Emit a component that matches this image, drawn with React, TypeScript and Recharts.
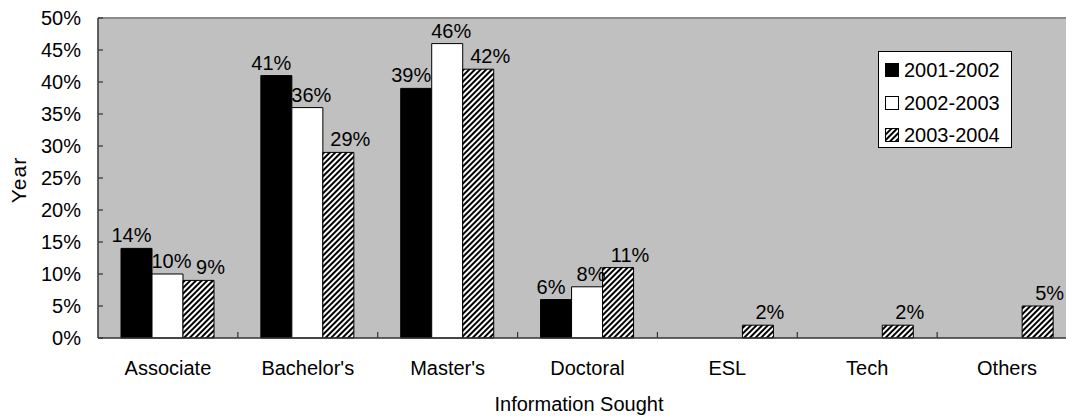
import React from "react";
import {
  Bar,
  BarChart,
  CartesianGrid,
  LabelList,
  ReferenceLine,
  XAxis,
  YAxis,
} from "recharts";

const FONT = '"Liberation Sans", Arial, sans-serif';
const FS = 20;
const PLOT_BG = "#C0C0C0";
const AXIS = "#333333";

const categories = [
  "Associate",
  "Bachelor's",
  "Master's",
  "Doctoral",
  "ESL",
  "Tech",
  "Others",
];
const y2001 = [14, 41, 39, 6, null, null, null];
const y2002 = [10, 36, 46, 8, null, null, null];
const y2003 = [9, 29, 42, 11, 2, 2, 5];
const seriesNames = ["2001-2002", "2002-2003", "2003-2004"];
const yTicks = [0, 5, 10, 15, 20, 25, 30, 35, 40, 45, 50];

const CHART_W = 1078;
const CHART_H = 418;
const Y_AXIS_W = 98;
const BAND = (CHART_W - Y_AXIS_W - 1) / categories.length;

const data = categories.map((name, i) => ({
  name,
  a: y2001[i],
  b: y2002[i],
  c: y2003[i],
}));

function XTick({ x, y, payload, index }: any) {
  return (
    <g>
      {index > 0 && (
        <line
          x1={x - BAND / 2}
          x2={x - BAND / 2}
          y1={y}
          y2={y - 6}
          stroke={AXIS}
          strokeWidth={1.2}
        />
      )}
      <text
        x={x}
        y={y + 37}
        textAnchor="middle"
        fill="#000"
        style={{ fontSize: FS, fontFamily: FONT }}
      >
        {payload.value}
      </text>
    </g>
  );
}

function YTick({ x, y, payload }: any) {
  return (
    <g>
      <line x1={x} x2={x + 5} y1={y} y2={y} stroke={AXIS} strokeWidth={1.2} />
      <text
        x={x - 17}
        y={y}
        textAnchor="end"
        dominantBaseline="central"
        fill="#000"
        style={{ fontSize: FS, fontFamily: FONT }}
      >
        {payload.value}%
      </text>
    </g>
  );
}

function valueLabel(dx: number) {
  return (props: any) => {
    const { x, y, width, value } = props;
    if (value === null || value === undefined) return null;
    return (
      <text
        x={x + width / 2 + dx}
        y={y - 6}
        textAnchor="middle"
        fill="#000"
        style={{ fontSize: FS, fontFamily: FONT }}
      >
        {value}%
      </text>
    );
  };
}

function Swatch({ kind }: { kind: number }) {
  return (
    <svg width={14} height={14} style={{ display: "block" }}>
      <defs>
        <pattern
          id="hatchLegend"
          patternUnits="userSpaceOnUse"
          width={4}
          height={4}
          patternTransform="rotate(45)"
        >
          <rect width={4} height={4} fill="#fff" />
          <rect width={2} height={4} fill="#000" />
        </pattern>
      </defs>
      <rect
        x={0.5}
        y={0.5}
        width={13}
        height={13}
        fill={kind === 0 ? "#000" : kind === 1 ? "#fff" : "url(#hatchLegend)"}
        stroke="#000"
        strokeWidth={1}
      />
    </svg>
  );
}

export default function App() {
  return (
    <div
      style={{
        position: "absolute",
        left: 0,
        top: 0,
        width: 1066,
        height: 418,
        overflow: "hidden",
        background: "#fff",
        fontFamily: FONT,
      }}
    >
      <BarChart
        width={CHART_W}
        height={CHART_H}
        data={data}
        margin={{ top: 18, right: 1, left: 0, bottom: 0 }}
        barCategoryGap={23}
        barGap={0}
      >
        <defs>
          <pattern
            id="hatch"
            patternUnits="userSpaceOnUse"
            width={4}
            height={4}
            patternTransform="rotate(45)"
          >
            <rect width={4} height={4} fill="#fff" />
            <rect width={2} height={4} fill="#000" />
          </pattern>
        </defs>
        <CartesianGrid
          fill={PLOT_BG}
          horizontal={false}
          vertical={false}
          stroke="none"
        />
        <ReferenceLine y={50} stroke="#8a8a8a" strokeWidth={2} />
        <XAxis
          dataKey="name"
          height={80}
          tickLine={false}
          tickSize={0}
          tickMargin={0}
          axisLine={{ stroke: AXIS, strokeWidth: 1.5 }}
          tick={<XTick />}
          interval={0}
          label={{
            content: () => (
              <text
                x={579}
                y={411}
                textAnchor="middle"
                fill="#000"
                style={{ fontSize: FS, fontFamily: FONT }}
              >
                Information Sought
              </text>
            ),
          }}
        />
        <YAxis
          width={Y_AXIS_W}
          domain={[0, 50]}
          ticks={yTicks}
          interval={0}
          tickLine={false}
          tickSize={0}
          tickMargin={0}
          axisLine={{ stroke: AXIS, strokeWidth: 1.5 }}
          tick={<YTick />}
          label={{
            content: () => (
              <text
                x={26}
                y={180}
                transform="rotate(-90 26 180)"
                textAnchor="middle"
                fill="#000"
                style={{ fontSize: 21, fontFamily: FONT, letterSpacing: 1 }}
              >
                Year
              </text>
            ),
          }}
        />
        <Bar
          dataKey="a"
          name={seriesNames[0]}
          fill="#000"
          stroke="#000"
          strokeWidth={1}
          isAnimationActive={false}
        >
          <LabelList dataKey="a" content={valueLabel(-5)} />
        </Bar>
        <Bar
          dataKey="b"
          name={seriesNames[1]}
          fill="#fff"
          stroke="#000"
          strokeWidth={1}
          isAnimationActive={false}
        >
          <LabelList dataKey="b" content={valueLabel(4)} />
        </Bar>
        <Bar
          dataKey="c"
          name={seriesNames[2]}
          fill="url(#hatch)"
          stroke="#000"
          strokeWidth={1}
          isAnimationActive={false}
        >
          <LabelList dataKey="c" content={valueLabel(12)} />
        </Bar>
      </BarChart>

      <div
        style={{
          position: "absolute",
          left: 878,
          top: 51,
          width: 132,
          height: 95,
          background: "#fff",
          border: "1px solid #000",
          boxSizing: "content-box",
        }}
      >
        {seriesNames.map((name, i) => (
          <div
            key={name}
            style={{
              position: "absolute",
              left: 6,
              top: 10 + i * 32.5,
              display: "flex",
              alignItems: "center",
              gap: 5,
              fontSize: FS,
              lineHeight: "16px",
              color: "#000",
              whiteSpace: "nowrap",
            }}
          >
            <Swatch kind={i} />
            <span>{name}</span>
          </div>
        ))}
      </div>
    </div>
  );
}
